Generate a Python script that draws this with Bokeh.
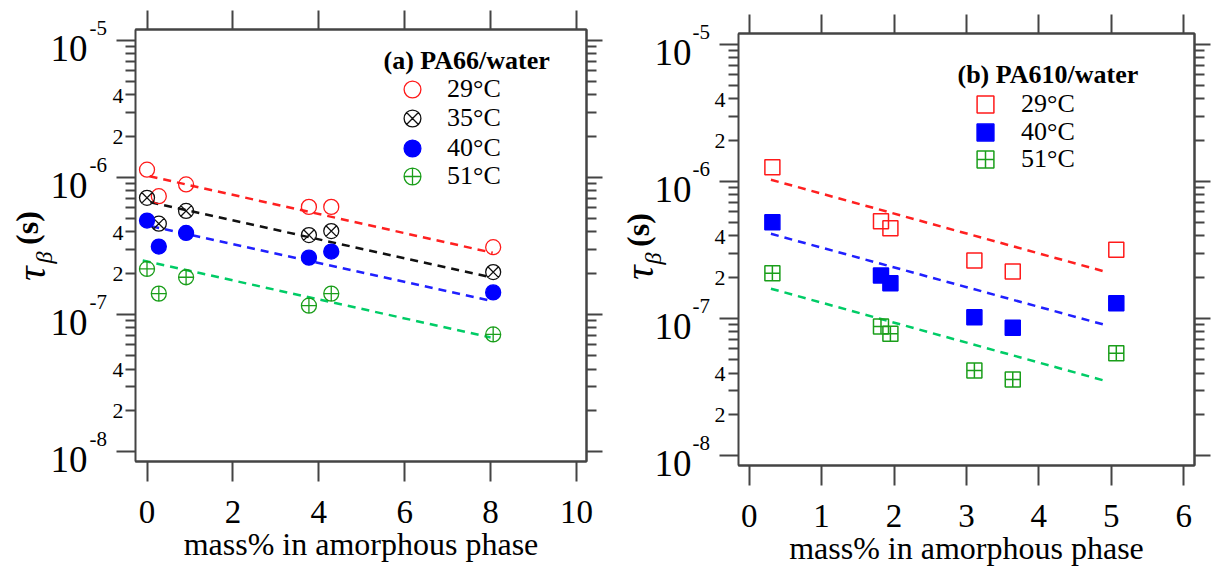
import numpy as np
from bokeh.plotting import figure
from bokeh.models import (Range1d, FixedTicker, LinearAxis, LogAxis, Label,
                          Legend, LegendItem)
from bokeh.layouts import row
from bokeh.embed import file_html
from bokeh.resources import INLINE
from bokeh.core.properties import value

FONT = "Liberation Serif"

# ---------------- data: panel (a) PA66/water ----------------
a_x = [0.0, 0.275, 0.91, 3.77, 4.29, 8.06]
a_29 = [1.14e-6, 7.3e-7, 8.9e-7, 6.1e-7, 6.1e-7, 3.1e-7]
a_35 = [7.1e-7, 4.6e-7, 5.7e-7, 3.8e-7, 4.06e-7, 2.04e-7]
a_40 = [4.85e-7, 3.13e-7, 3.94e-7, 2.6e-7, 2.88e-7, 1.45e-7]
a_51 = [2.15e-7, 1.42e-7, 1.87e-7, 1.16e-7, 1.42e-7, 7.15e-8]
a_fit_x29 = [0.06, 8.05]
a_fit_29 = [1.02e-6, 2.82e-7]
a_fit_x35 = [0.08, 8.0]
a_fit_35 = [6.6e-7, 1.87e-7]
a_fit_x40 = [0.1, 8.0]
a_fit_40 = [4.4e-7, 1.26e-7]
a_fit_x51 = [-0.1, 8.0]
a_fit_51 = [2.48e-7, 6.8e-8]

# ---------------- data: panel (b) PA610/water ----------------
b_x = [0.32, 1.82, 1.95, 3.11, 3.64, 5.07]
b_29 = [1.27e-6, 5.13e-7, 4.56e-7, 2.65e-7, 2.2e-7, 3.17e-7]
b_40 = [5.05e-7, 2.06e-7, 1.81e-7, 1.02e-7, 8.56e-8, 1.29e-7]
b_51 = [2.14e-7, 8.75e-8, 7.73e-8, 4.17e-8, 3.59e-8, 5.58e-8]
b_fit_x = [0.30, 4.94]
b_fit_29 = [1.03e-6, 2.18e-7]
b_fit_40 = [4.15e-7, 8.9e-8]
b_fit_51 = [1.65e-7, 3.48e-8]

# ---------------- ticks / labels ----------------
a_xticks = [0, 2, 4, 6, 8, 10]
b_xticks = [0, 1, 2, 3, 4, 5, 6]
y_decades = [-8, -7, -6, -5]
y_sub_labels = [2, 4]
y_minor_mult = [2, 3, 4, 5, 6, 7, 8, 9]
x_label = "mass% in amorphous phase"
a_title = "(a) PA66/water"
b_title = "(b) PA610/water"
a_temps = ["29°C", "35°C", "40°C", "51°C"]
b_temps = ["29°C", "40°C", "51°C"]

RED = "#ff1a1a"
BLACK = "#111111"
BLUE = "#0000ff"
GREEN_M = "#1a9e1a"
GREEN_L = "#00cc66"
RED_L = "#ff2020"
BLUE_L = "#2020ff"
AX = "#444444"

LOG_LO, LOG_HI = -8.073, -4.92
H = 577
FRAME_H = 432
major_y = [10.0 ** d for d in y_decades]
minor_y = [m * 10.0 ** d for d in y_decades[:-1] for m in y_minor_mult]


def no_align(p):
    try:
        p.frame_align = False
    except Exception:
        pass


def y_ticker():
    return FixedTicker(ticks=major_y, minor_ticks=minor_y)


def make_panel(width, mb_right, mb_top, mb_bottom, xr, xticks):
    p = figure(width=width, height=H, x_range=Range1d(*xr),
               y_range=Range1d(10 ** LOG_LO, 10 ** LOG_HI), y_axis_type="log",
               y_axis_location=None,
               output_backend="svg", toolbar_location=None,
               min_border_left=0, min_border_right=mb_right,
               min_border_top=mb_top, min_border_bottom=mb_bottom)
    no_align(p)
    p.grid.visible = False
    p.outline_line_color = AX
    p.outline_line_width = 2
    p.background_fill_color = "white"
    p.border_fill_color = "white"

    xa = p.xaxis[0]
    xa.ticker = FixedTicker(ticks=xticks, minor_ticks=[])
    xa.major_tick_in = 0
    xa.major_tick_out = 20
    xa.major_tick_line_color = AX
    xa.major_tick_line_width = 2
    xa.axis_line_color = AX
    xa.axis_line_width = 2
    xa.major_label_text_font = FONT
    xa.major_label_text_font_size = "33px"
    xa.major_label_text_color = "black"
    xa.major_label_standoff = 19
    xa.axis_label = x_label
    xa.axis_label_text_font = FONT
    xa.axis_label_text_font_size = "32px"
    xa.axis_label_text_font_style = "normal"
    xa.axis_label_text_color = "black"
    xa.axis_label_standoff = 0

    top = LinearAxis(ticker=FixedTicker(ticks=xticks, minor_ticks=[]),
                     major_tick_in=0, major_tick_out=19,
                     major_tick_line_color=AX, major_tick_line_width=2,
                     axis_line_color=AX, axis_line_width=2,
                     major_label_overrides={t: "" for t in xticks},
                     major_label_text_font_size="1px", major_label_standoff=0)
    p.add_layout(top, "above")

    right = LogAxis(ticker=y_ticker(),
                    major_tick_in=0, major_tick_out=16, minor_tick_in=0,
                    minor_tick_out=10, major_tick_line_color=AX,
                    minor_tick_line_color=AX, major_tick_line_width=2,
                    minor_tick_line_width=2, axis_line_color=AX,
                    axis_line_width=2,
                    major_label_overrides={t: "" for t in major_y},
                    major_label_text_font_size="1px", major_label_standoff=0)
    p.add_layout(right, "right")
    return p


def make_strip(width, mb_top, mb_bottom, x_ten, x_exp, x_sub,
               s_xy, tau_xy, beta_xy):
    """Left-hand strip holding the y axis ticks (pointing into the strip,
    i.e. outward from the plot frame), the tick labels and the axis title."""
    dpx = FRAME_H / (LOG_HI - LOG_LO)
    s_hi = LOG_HI + mb_top / dpx
    s_lo = LOG_LO - mb_bottom / dpx
    s = figure(width=width, height=H, x_range=Range1d(0, width),
               y_range=Range1d(10 ** s_lo, 10 ** s_hi), y_axis_type="log",
               x_axis_location=None, y_axis_location=None,
               min_border_left=0, min_border_right=0,
               min_border_top=0, min_border_bottom=0,
               output_backend="svg", toolbar_location=None)
    no_align(s)
    s.outline_line_color = None
    s.grid.visible = False
    s.background_fill_color = "white"
    s.border_fill_color = "white"
    ax = LogAxis(ticker=y_ticker(), bounds=(10 ** LOG_LO, 10 ** LOG_HI),
                 major_tick_in=19, major_tick_out=0, minor_tick_in=10,
                 minor_tick_out=0, major_tick_line_color=AX,
                 minor_tick_line_color=AX, major_tick_line_width=2,
                 minor_tick_line_width=2, axis_line_color=AX,
                 axis_line_width=2,
                 major_label_overrides={t: "" for t in major_y},
                 major_label_text_font_size="1px", major_label_standoff=0)
    s.add_layout(ax, "right")

    s.text(x=[x_ten] * len(y_decades), y=major_y,
           text=["10"] * len(y_decades), text_align="right",
           text_baseline="middle", y_offset=8,
           text_font=value(FONT), text_font_size="37px", text_color="black")
    s.text(x=[x_exp] * len(y_decades), y=major_y,
           text=[str(d) for d in y_decades], text_align="left",
           text_baseline="middle", y_offset=-12,
           text_font=value(FONT), text_font_size="21px", text_color="black")
    sub_y = [m * 10.0 ** d for d in y_decades[:-1] for m in y_sub_labels]
    sub_t = [str(m) for d in y_decades[:-1] for m in y_sub_labels]
    s.text(x=[x_sub] * len(sub_y), y=sub_y, text=sub_t, text_align="right",
           text_baseline="middle", y_offset=1,
           text_font=value(FONT), text_font_size="22px", text_color="black")

    ang = np.pi / 2
    s.add_layout(Label(x=s_xy[0], y=s_xy[1], x_units="screen", y_units="screen",
                       text="(s)", angle=ang, text_align="center",
                       text_baseline="middle", text_font=FONT,
                       text_font_size="32px", text_font_style="bold",
                       text_color="black"))
    s.add_layout(Label(x=tau_xy[0], y=tau_xy[1], x_units="screen", y_units="screen",
                       text="τ", angle=ang, text_align="center",
                       text_baseline="middle", text_font=FONT,
                       text_font_size="40px", text_font_style="italic",
                       text_color="black"))
    s.add_layout(Label(x=beta_xy[0], y=beta_xy[1], x_units="screen", y_units="screen",
                       text="β", angle=ang, text_align="center",
                       text_baseline="middle", text_font=FONT,
                       text_font_size="24px", text_font_style="italic",
                       text_color="black"))
    return s


def add_legend(p, temps, renderers, vx, vys, standoff):
    for t, r, vy in zip(temps, renderers, vys):
        leg = Legend(items=[LegendItem(label=t, renderers=[r])],
                     location=(vx, vy), orientation="vertical",
                     glyph_width=42, glyph_height=42, spacing=0, padding=0,
                     margin=0, label_standoff=standoff, label_height=20,
                     label_text_font=FONT, label_text_font_size="26px",
                     label_text_color="black",
                     border_line_color=None, background_fill_color=None)
        p.add_layout(leg)


DASH = "8 6"
LW = 2.5

# ================= panel (a) =================
sa = make_strip(135, 29, 116, 87, 89, 123,
                (26.5, 577 - 227.5), (31, 577 - 273), (43, 577 - 257))
pa = make_panel(480, 29, 29, 116, (-0.268, 10.233), a_xticks)
pa.line(a_fit_x29, a_fit_29, line_color=RED_L, line_width=LW, line_dash=DASH)
pa.line(a_fit_x35, a_fit_35, line_color=BLACK, line_width=LW, line_dash=DASH)
pa.line(a_fit_x40, a_fit_40, line_color=BLUE_L, line_width=LW, line_dash=DASH)
pa.line(a_fit_x51, a_fit_51, line_color=GREEN_L, line_width=LW, line_dash=DASH)
ra1 = pa.scatter(a_x, a_29, marker="circle", size=15, fill_color=None,
                 line_color=RED, line_width=1.3)
ra2 = pa.scatter(a_x, a_35, marker="circle_x", size=15, fill_color=None,
                 line_color=BLACK, line_width=1.3)
ra3 = pa.scatter(a_x, a_40, marker="circle", size=15, fill_color=BLUE,
                 line_color=BLUE, line_width=1.3)
ra4 = pa.scatter(a_x, a_51, marker="circle_cross", size=15, fill_color=None,
                 line_color=GREEN_M, line_width=1.3)
add_legend(pa, a_temps, [ra1, ra2, ra3, ra4], 256, [351, 322, 292, 264], 14)
pa.add_layout(Label(x=248, y=401, x_units="screen", y_units="screen",
                    text=a_title, text_font=FONT, text_font_size="26px",
                    text_font_style="bold", text_baseline="alphabetic",
                    text_color="black"))

# ================= panel (b) =================
sb = make_strip(123, 33, 112, 76, 77, 110,
                (22, 577 - 229.5), (24, 577 - 272), (37, 577 - 258))
pb = make_panel(473, 17, 33, 112, (-0.148, 6.15), b_xticks)
pb.line(b_fit_x, b_fit_29, line_color=RED_L, line_width=LW, line_dash=DASH)
pb.line(b_fit_x, b_fit_40, line_color=BLUE_L, line_width=LW, line_dash=DASH)
pb.line(b_fit_x, b_fit_51, line_color=GREEN_L, line_width=LW, line_dash=DASH)
rb1 = pb.scatter(b_x, b_29, marker="square", size=15, fill_color=None,
                 line_color=RED, line_width=1.5)
rb2 = pb.scatter(b_x, b_40, marker="square", size=15, fill_color=BLUE,
                 line_color=BLUE, line_width=1.5)
rb3 = pb.scatter(b_x, b_51, marker="square_cross", size=15, fill_color=None,
                 line_color=GREEN_M, line_width=1.5)
add_legend(pb, b_temps, [rb1, rb2, rb3], 226, [340, 312, 285], 15)
pb.add_layout(Label(x=219, y=391, x_units="screen", y_units="screen",
                    text=b_title, text_font=FONT, text_font_size="26px",
                    text_font_style="bold", text_baseline="alphabetic",
                    text_color="black"))

layout = row(sa, pa, sb, pb)
open("out.html", "w").write(file_html(layout, INLINE))
